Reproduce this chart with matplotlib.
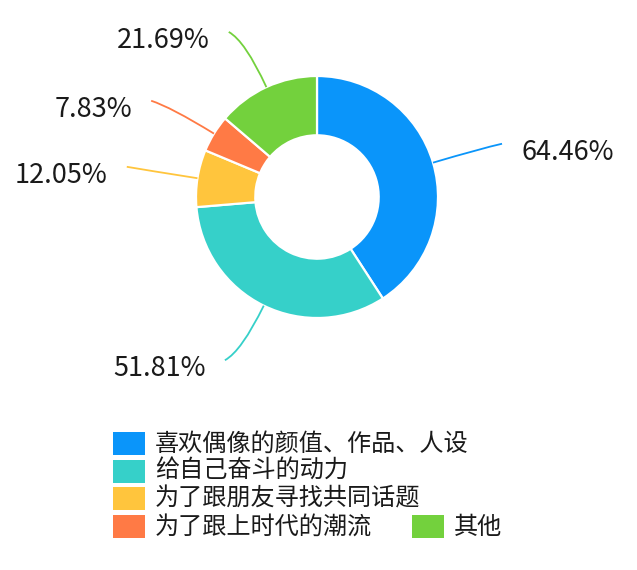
import matplotlib
matplotlib.use("Agg")
import matplotlib.pyplot as plt
from matplotlib.patches import Rectangle
from matplotlib.path import Path
from matplotlib.patches import PathPatch
import numpy as np

plt.rcParams['font.family'] = ['Noto Sans CJK SC', 'DejaVu Sans']

categories = ["喜欢偶像的颜值、作品、人设", "给自己奋斗的动力", "为了跟朋友寻找共同话题",
              "为了跟上时代的潮流", "其他"]
values = [64.46, 51.81, 12.05, 7.83, 21.69]
labels = ["64.46%", "51.81%", "12.05%", "7.83%", "21.69%"]
colors = ["#0A95FA", "#36D0C9", "#FFC53D", "#FF7A45", "#73D13D"]

W, H = 637, 570
CX, CY, R = 317, 197, 121

fig = plt.figure(figsize=(W / 100, H / 100), dpi=100)
ax = fig.add_axes([0, 0, 1, 1])
ax.set_xlim(-CX / R, (W - CX) / R)
ax.set_ylim(-(H - CY) / R, CY / R)
ax.set_aspect('equal')
ax.axis('off')


def px(x, y):
    return (x - CX) / R, (CY - y) / R


wedges, _ = ax.pie(values, colors=colors, startangle=90, counterclock=False,
                   radius=1.0, center=(0, 0),
                   wedgeprops=dict(width=0.49, edgecolor='white', linewidth=1.6))
ax.set_xlim(-CX / R, (W - CX) / R)
ax.set_ylim(-(H - CY) / R, CY / R)

for w, lab, col in zip(wedges, labels, colors):
    ang = np.deg2rad((w.theta1 + w.theta2) / 2)
    c, s = np.cos(ang), np.sin(ang)
    side = 1 if c >= 0 else -1
    p0 = (c * 1.0, s * 1.0)
    p1 = (c * 1.42, s * 1.42)
    p2 = (c * 1.48 + side * 0.11, s * 1.48 + 0.02 * np.sign(s))
    path = Path([p0, p1, p2], [Path.MOVETO, Path.CURVE3, Path.CURVE3])
    ax.add_patch(PathPatch(path, fill=False, edgecolor=col, linewidth=1.3))
    tx = p2[0] + side * 0.16
    ty = p2[1] - 0.07
    ax.text(tx, ty, lab, ha='left' if side > 0 else 'right', va='center',
            fontsize=19.5, color='#1a1a1a', fontweight='light')

# legend
rows_y = [443.5, 471, 498.5, 526.5]
legend_pos = [(113, rows_y[0]), (113, rows_y[1]), (113, rows_y[2]), (113, rows_y[3]),
              (412, rows_y[3])]
for (lx, ly), cat, col in zip(legend_pos, categories, colors):
    x0, y0 = px(lx, ly + 11.5)
    ax.add_patch(Rectangle((x0, y0), 32 / R, 23 / R, facecolor=col, edgecolor='none'))
    tx, ty = px(lx + 42, ly)
    ax.text(tx, ty, cat, ha='left', va='center', fontsize=17.4, color='#1a1a1a',
            fontweight='light')

fig.savefig("out.png", dpi=100, facecolor='white')
